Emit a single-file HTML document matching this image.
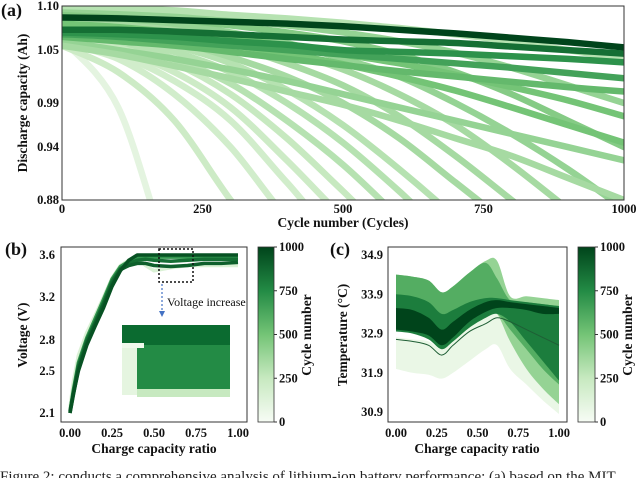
<!DOCTYPE html>
<html><head><meta charset="utf-8"><style>
html,body{margin:0;padding:0;background:#fff;overflow:hidden;width:640px;height:478px;}
svg{display:block;font-family:"Liberation Serif",serif;overflow:hidden;}
.t{font-size:12.5px;font-weight:bold;fill:#111;}
.ti{font-size:13.5px;font-weight:bold;fill:#111;}
.pl{font-size:18px;font-weight:bold;fill:#111;}
</style></head><body>
<svg id="fig" width="640" height="478" viewBox="0 0 640 478">
<defs>
<clipPath id="ca"><rect x="62" y="6" width="562" height="194"/></clipPath>
<clipPath id="cb"><rect x="61" y="247" width="186" height="175"/></clipPath>
<clipPath id="cc"><rect x="388" y="247" width="179" height="175"/></clipPath>
<linearGradient id="cmap" x1="0" y1="1" x2="0" y2="0">
<stop offset="0" stop-color="#f7fcf5"/><stop offset="0.25" stop-color="#c7e9c0"/><stop offset="0.5" stop-color="#74c476"/><stop offset="0.75" stop-color="#238b45"/><stop offset="1" stop-color="#00441b"/>
</linearGradient>
</defs>
<g id="pa"></g>
<g id="pb"></g>
<g id="pc"></g>
<text x="0" y="481" style="font-size:15px;fill:#222">Figure 2: conducts a comprehensive analysis of lithium-ion battery performance: (a) based on the MIT</text>
</svg>
<script>
// ---------- Panel A data ----------
const aCycles=[0,100,200,300,400,500,600,700,800,900,1000];
const aTicksX=[0,250,500,750,1000];
const aTicksY=[1.10,1.05,0.99,0.94,0.88];
const aLevels=[0.1,0.2,0.22,0.2,0.22,0.25,0.3,0.3,0.3,0.35,0.35,0.35,0.4,0.45,0.4,0.3,0.4,0.5,0.5,0.35,0.55,0.65,0.72,0.85,1.0];
const aSeries=[
[1.062,0.985,0.80,0.70,0.6,0.5,0.5,0.5,0.5,0.5,0.5],
[1.058,1.04,1.0,0.94,0.86,0.8,0.8,0.8,0.8,0.8,0.8],
[1.055,1.025,0.97,0.88,0.80,0.8,0.8,0.8,0.8,0.8,0.8],
[1.062,1.045,1.015,0.97,0.9,0.83,0.8,0.8,0.8,0.8,0.8],
[1.065,1.05,1.025,0.985,0.925,0.86,0.8,0.8,0.8,0.8,0.8],
[1.068,1.055,1.035,1.0,0.95,0.89,0.83,0.8,0.8,0.8,0.8],
[1.07,1.06,1.04,1.012,0.97,0.92,0.86,0.8,0.8,0.8,0.8],
[1.075,1.065,1.048,1.025,0.99,0.945,0.89,0.83,0.78,0.75,0.75],
[1.078,1.07,1.055,1.035,1.005,0.965,0.915,0.86,0.8,0.75,0.7],
[1.08,1.073,1.06,1.042,1.02,0.99,0.95,0.90,0.85,0.8,0.75],
[1.085,1.08,1.07,1.055,1.035,1.01,0.975,0.93,0.88,0.83,0.78],
[1.088,1.083,1.075,1.063,1.048,1.028,1.0,0.965,0.92,0.87,0.82],
[1.09,1.086,1.08,1.07,1.058,1.04,1.02,0.99,0.955,0.915,0.87],
[1.093,1.09,1.085,1.078,1.07,1.06,1.045,1.025,1.0,0.97,0.94],
[1.097,1.094,1.09,1.085,1.078,1.07,1.06,1.047,1.03,1.01,0.99],
[1.10,1.098,1.095,1.09,1.086,1.081,1.075,1.068,1.06,1.05,1.04],
[1.06,1.05,1.04,1.028,1.015,1.0,0.985,0.97,0.955,0.94,0.925],
[1.075,1.07,1.064,1.056,1.046,1.034,1.02,1.004,0.985,0.965,0.945],
[1.08,1.076,1.07,1.063,1.055,1.045,1.035,1.022,1.008,0.993,0.975],
[1.055,1.045,1.032,1.018,1.003,0.988,0.97,0.95,0.93,0.905,0.88],
[1.065,1.06,1.055,1.048,1.04,1.033,1.026,1.02,1.014,1.008,1.003],
[1.068,1.065,1.06,1.055,1.05,1.045,1.04,1.035,1.03,1.024,1.018],
[1.07,1.068,1.065,1.06,1.056,1.05,1.048,1.046,1.043,1.040,1.036],
[1.073,1.073,1.071,1.068,1.065,1.062,1.060,1.058,1.054,1.050,1.046],
[1.087,1.086,1.084,1.082,1.08,1.077,1.073,1.069,1.064,1.059,1.053]
];
// ---------- Panel B data ----------
const bX=[0,0.02,0.05,0.1,0.15,0.2,0.25,0.3,0.35,0.4,0.45,0.5,0.6,0.7,0.8,0.9,1.0];
const bTicksX=[0,0.25,0.5,0.75,1.0];
const bTicksY=[2.1,2.5,2.8,3.2,3.6];
const bLevels=[0.15,0.7,0.85,0.9,0.95];
const bSeries=[
[2.15,2.4,2.65,2.87,3.03,3.2,3.38,3.5,3.55,3.57,3.5,3.45,3.48,3.5,3.5,3.5,3.5],
[2.11,2.32,2.58,2.82,3.0,3.18,3.37,3.49,3.54,3.57,3.58,3.58,3.58,3.58,3.58,3.58,3.58],
[2.12,2.3,2.55,2.8,2.97,3.15,3.35,3.47,3.52,3.55,3.56,3.55,3.54,3.55,3.56,3.56,3.56],
[2.1,2.27,2.52,2.77,2.95,3.13,3.32,3.46,3.5,3.52,3.52,3.5,3.49,3.5,3.52,3.52,3.53],
[2.1,2.28,2.5,2.75,2.93,3.1,3.3,3.45,3.55,3.6,3.6,3.6,3.6,3.6,3.6,3.6,3.6]
];
const cbTicks=[0,250,500,750,1000];
// ---------- Panel C data ----------
const cX=[0,0.1,0.2,0.28,0.35,0.45,0.55,0.62,0.7,0.8,0.9,1.0];
const cTicksX=[0,0.25,0.5,0.75,1.0];
const cTicksY=[30.9,31.9,32.9,33.9,34.9];
const cLevels=[0.07,0.4,0.6,0.8,1.0];
const cUpper=[
[32.8,32.75,32.7,32.5,32.7,33.1,33.4,33.5,33.3,32.8,32.1,31.5],
[34.4,34.35,34.25,33.95,34.1,34.45,34.75,34.75,33.85,33.85,33.8,33.75],
[34.4,34.35,34.25,33.95,34.1,34.45,34.7,34.3,33.75,33.7,33.65,33.6],
[33.9,33.85,33.7,33.4,33.5,33.7,33.8,33.8,33.75,33.7,33.65,33.6],
[33.55,33.5,33.3,33.0,33.2,33.5,33.7,33.75,33.7,33.65,33.6,33.55]
];
const cLower=[
[32.0,31.9,31.85,31.75,31.9,32.2,32.5,32.6,32.0,31.6,31.2,30.85],
[33.2,33.1,33.0,32.7,32.9,33.3,33.5,33.4,32.7,32.0,31.5,31.1],
[33.0,32.95,32.8,32.55,32.7,33.05,33.3,33.4,33.0,32.5,32.0,31.6],
[32.95,32.9,32.75,32.5,32.7,33.05,33.3,33.4,33.2,32.7,32.2,31.7],
[33.0,32.95,32.85,32.6,32.8,33.2,33.45,33.55,33.55,33.5,33.4,33.4]
];
const cThin=[32.75,32.7,32.6,32.35,32.6,32.95,33.15,33.3,33.2,33.0,32.8,32.6];

const NS='http://www.w3.org/2000/svg';
function mk(tag,attrs,parent){const e=document.createElementNS(NS,tag);for(const k in attrs)e.setAttribute(k,attrs[k]);parent.appendChild(e);return e;}
const stops=[[247,252,245],[199,233,192],[116,196,118],[35,139,69],[0,68,27]];
function green(t){t=Math.max(0,Math.min(1,t))*4;const i=Math.min(3,Math.floor(t)),f=t-i;const a=stops[i],b=stops[i+1];return 'rgb('+a.map((v,k)=>Math.round(v+(b[k]-v)*f)).join(',')+')';}
function lin(d0,d1,r0,r1){return v=>r0+(v-d0)/(d1-d0)*(r1-r0);}
function piece(dom,rng){return v=>{for(let i=0;i<dom.length-1;i++){if(v<=dom[i+1]||i==dom.length-2){return rng[i]+(v-dom[i])/(dom[i+1]-dom[i])*(rng[i+1]-rng[i]);}}};}
// smooth path through points (Catmull-Rom)
function smooth(P){let d='M'+P[0][0]+','+P[0][1];for(let i=0;i<P.length-1;i++){const p0=P[i-1]||P[i],p1=P[i],p2=P[i+1],p3=P[i+2]||p2;
d+=' C'+(p1[0]+(p2[0]-p0[0])/6)+','+(p1[1]+(p2[1]-p0[1])/6)+' '+(p2[0]-(p3[0]-p1[0])/6)+','+(p2[1]-(p3[1]-p1[1])/6)+' '+p2[0]+','+p2[1];}return d;}
function txt(p,x,y,s,cls,anchor,name,rot){const e=mk('text',{x:x,y:y,class:cls,'text-anchor':anchor||'middle'},p);if(rot)e.setAttribute('transform','rotate(-90 '+x+' '+y+')');e.textContent=s;


return e;}

// ===== Panel A =====
const pa=document.getElementById('pa');
const ax=lin(0,1000,62,624), ay=lin(0.88,1.10,200,6);
const ga=mk('g',{'clip-path':'url(#ca)'},pa);
aSeries.forEach((s,i)=>{const p=mk('path',{d:smooth(s.map((v,j)=>[ax(aCycles[j]),ay(v)])),fill:'none',stroke:green(aLevels[i]),'stroke-width':6.5,'stroke-linecap':'round'},ga);

});
mk('rect',{x:62,y:6,width:562,height:194,fill:'none',stroke:'#333','stroke-width':1},pa);
aTicksX.forEach(t=>txt(pa,ax(t),213,String(t),'t','middle','x-tick-a'));
aTicksY.forEach(t=>txt(pa,59,ay(t)+4,t.toFixed(2),'t','end','y-tick-a'));
txt(pa,343,227,'Cycle number (Cycles)','ti','middle','x-axis-title-a');
txt(pa,27,103,'Discharge capacity (Ah)','ti','middle','y-axis-title-a',true);
txt(pa,1,16,'(a)','pl','start','panel-label-a');

function colorbar(p,x0,x1,name,titleX){
 const r=mk('rect',{x:x0,y:247,width:x1-x0,height:175,fill:'url(#cmap)',stroke:'#333','stroke-width':0.8},p);
 
 
 const cy=lin(0,1000,422,247);
 cbTicks.forEach(t=>{mk('line',{x1:x1,x2:x1+3,y1:cy(t),y2:cy(t),stroke:'#333'},p);txt(p,x1+5,cy(t)+4,String(t),'t','start','colorbar-tick');});
 txt(p,titleX,335,'Cycle number','ti','middle','colorbar-title',true);
}

// ===== Panel B =====
const pb=document.getElementById('pb');
const bx=lin(0,1,70,238), by=piece(bTicksY,[413,371,340,297,255]);
const gb=mk('g',{'clip-path':'url(#cb)'},pb);
bSeries.forEach((s,i)=>{const p=mk('polyline',{points:s.map((v,j)=>bx(bX[j])+','+by(v)).join(' '),fill:'none',stroke:green(bLevels[i]),'stroke-width':3.5,'stroke-linejoin':'round'},gb);

});
const ins=mk('g',{},pb);
mk('rect',{x:122,y:325,width:108,height:22,fill:'#0b6b30'},ins);
mk('rect',{x:122,y:345,width:15,height:50,fill:'#e5f5e0'},ins);
mk('rect',{x:137,y:345,width:93,height:45,fill:'#238b45'},ins);
mk('rect',{x:137,y:389,width:93,height:8,fill:'#c7e9c0'},ins);
mk('rect',{x:122,y:343,width:22,height:5,fill:'#f0f9ec'},ins);
mk('rect',{x:159,y:249,width:34,height:33,fill:'none',stroke:'#111','stroke-width':1.5,'stroke-dasharray':'2,2'},pb);
mk('line',{x1:162,y1:284,x2:162,y2:312,stroke:'#4472c4','stroke-width':1.2,'stroke-dasharray':'2,2'},pb);
mk('path',{d:'M159,311 L165,311 L162,317 Z',fill:'#4472c4'},pb);
const vt=txt(pb,167,306,'Voltage increase','t','start','annotation-voltage-increase');vt.setAttribute('style','font-weight:normal;font-size:12px');
mk('rect',{x:61,y:247,width:186,height:175,fill:'none',stroke:'#333','stroke-width':1},pb);
bTicksX.forEach(t=>txt(pb,bx(t),437,t.toFixed(2),'t','middle','x-tick-b'));
bTicksY.forEach(t=>txt(pb,55,by(t)+4,t.toFixed(1),'t','end','y-tick-b'));
txt(pb,154,453,'Charge capacity ratio','ti','middle','x-axis-title-b');
txt(pb,27,335,'Voltage (V)','ti','middle','y-axis-title-b',true);
txt(pb,5,255,'(b)','pl','start','panel-label-b');
colorbar(pb,258,274,'colorbar-b',311);

// ===== Panel C =====
const pc=document.getElementById('pc');
const cx=lin(0,1,396,559), cy=lin(30.9,34.9,412,255);
const gc=mk('g',{'clip-path':'url(#cc)'},pc);
cUpper.forEach((u,i)=>{const l=cLower[i];
 const up=u.map((v,j)=>[cx(cX[j]),cy(v)]), lo=l.map((v,j)=>[cx(cX[j]),cy(v)]).reverse();
 const d=smooth(up)+' L'+smooth(lo).slice(1)+' Z';
 const p=mk('path',{d:d,fill:green(cLevels[i])},gc);
 
 });
const th=mk('path',{d:smooth(cThin.map((v,j)=>[cx(cX[j]),cy(v)])),fill:'none',stroke:'#1f5e35','stroke-width':1},gc);


mk('rect',{x:388,y:247,width:179,height:175,fill:'none',stroke:'#333','stroke-width':1},pc);
cTicksX.forEach(t=>txt(pc,cx(t),437,t.toFixed(2),'t','middle','x-tick-c'));
cTicksY.forEach(t=>txt(pc,383,cy(t)+4,t.toFixed(1),'t','end','y-tick-c'));
txt(pc,477,453,'Charge capacity ratio','ti','middle','x-axis-title-c');
txt(pc,347,335,'Temperature (°C)','ti','middle','y-axis-title-c',true);
txt(pc,330,255,'(c)','pl','start','panel-label-c');
colorbar(pc,578,595,'colorbar-c',632);
</script>
</body></html>
